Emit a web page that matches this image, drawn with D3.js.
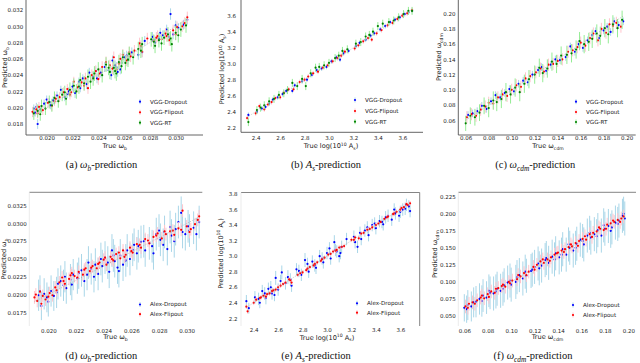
<!DOCTYPE html>
<html>
<head>
<meta charset="utf-8">
<script src="https://cdn.jsdelivr.net/npm/d3@7"></script>
<style>
  html, body { margin: 0; padding: 0; background: #fff; }
  svg { display: block; }
</style>
</head>
<body>
<div id="chart"></div>
<script>
// ---- data: [true value, predicted value, error] ----
const vggDropWb = [[0.0190,0.0199,0.0005],[0.0191,0.0194,0.0005],[0.0193,0.0180,0.0006],[0.0195,0.0198,0.0005],[0.0198,0.0205,0.0005],[0.0200,0.0210,0.0005],[0.0203,0.0203,0.0005],[0.0205,0.0209,0.0005],[0.0208,0.0215,0.0005],[0.0211,0.0222,0.0005],[0.0214,0.0213,0.0005],[0.0217,0.0220,0.0005],[0.0220,0.0226,0.0005],[0.0222,0.0218,0.0006],[0.0225,0.0232,0.0005],[0.0228,0.0236,0.0005],[0.0231,0.0229,0.0006],[0.0233,0.0243,0.0006],[0.0236,0.0238,0.0006],[0.0239,0.0236,0.0006],[0.0242,0.0243,0.0006],[0.0245,0.0250,0.0006],[0.0248,0.0246,0.0006],[0.0251,0.0258,0.0006],[0.0253,0.0252,0.0006],[0.0255,0.0244,0.0006],[0.0258,0.0255,0.0006],[0.0260,0.0262,0.0006],[0.0263,0.0259,0.0006],[0.0266,0.0268,0.0006],[0.0271,0.0265,0.0006],[0.0273,0.0275,0.0006],[0.0276,0.0282,0.0006],[0.0282,0.0287,0.0006],[0.0284,0.0280,0.0006],[0.0287,0.0285,0.0006],[0.0290,0.0289,0.0006],[0.0293,0.0296,0.0006],[0.0296,0.0315,0.0007],[0.0298,0.0290,0.0006],[0.0302,0.0298,0.0006],[0.0306,0.0302,0.0006],[0.0309,0.0308,0.0006],
  [0.0192,0.0201,0.0005],[0.0202,0.0207,0.0005],[0.0216,0.0217,0.0005],[0.0226,0.0224,0.0005],[0.0238,0.0245,0.0006],[0.0250,0.0240,0.0006],[0.0254,0.0250,0.0006],[0.0257,0.0247,0.0006],[0.0262,0.0264,0.0006],[0.0274,0.0268,0.0006],[0.0283,0.0283,0.0006],[0.0288,0.0292,0.0006],[0.0295,0.0287,0.0006],[0.0300,0.0301,0.0006]];
const vggFlipWb = [[0.0189,0.0195,0.0006],[0.0192,0.0198,0.0006],[0.0194,0.0201,0.0006],[0.0197,0.0197,0.0006],[0.0201,0.0206,0.0006],[0.0204,0.0202,0.0006],[0.0207,0.0211,0.0006],[0.0210,0.0213,0.0006],[0.0213,0.0219,0.0006],[0.0216,0.0223,0.0006],[0.0219,0.0219,0.0006],[0.0221,0.0232,0.0006],[0.0224,0.0225,0.0006],[0.0227,0.0231,0.0006],[0.0230,0.0236,0.0007],[0.0232,0.0224,0.0007],[0.0235,0.0240,0.0007],[0.0238,0.0245,0.0007],[0.0240,0.0235,0.0007],[0.0243,0.0250,0.0007],[0.0246,0.0256,0.0007],[0.0249,0.0252,0.0007],[0.0252,0.0262,0.0007],[0.0254,0.0247,0.0007],[0.0257,0.0260,0.0007],[0.0259,0.0265,0.0007],[0.0262,0.0258,0.0007],[0.0265,0.0263,0.0007],[0.0268,0.0270,0.0007],[0.0272,0.0279,0.0007],[0.0274,0.0269,0.0007],[0.0278,0.0285,0.0007],[0.0283,0.0282,0.0007],[0.0286,0.0288,0.0007],[0.0289,0.0284,0.0007],[0.0292,0.0291,0.0007],[0.0295,0.0283,0.0007],[0.0298,0.0295,0.0007],[0.0301,0.0299,0.0007],[0.0305,0.0300,0.0007],[0.0309,0.0311,0.0007],
  [0.0193,0.0193,0.0006],[0.0206,0.0208,0.0006],[0.0218,0.0216,0.0006],[0.0229,0.0227,0.0006],[0.0241,0.0242,0.0007],[0.0251,0.0248,0.0007],[0.0256,0.0254,0.0007],[0.0264,0.0268,0.0007],[0.0273,0.0276,0.0007],[0.0285,0.0286,0.0007],[0.0293,0.0288,0.0007],[0.0300,0.0290,0.0007],[0.0307,0.0304,0.0007]];
const vggRtWb = [[0.0190,0.0193,0.0008],[0.0193,0.0196,0.0008],[0.0196,0.0202,0.0008],[0.0199,0.0199,0.0008],[0.0202,0.0207,0.0008],[0.0206,0.0212,0.0008],[0.0209,0.0208,0.0008],[0.0212,0.0216,0.0008],[0.0215,0.0211,0.0008],[0.0218,0.0222,0.0009],[0.0221,0.0227,0.0009],[0.0223,0.0220,0.0009],[0.0226,0.0234,0.0009],[0.0229,0.0230,0.0009],[0.0232,0.0238,0.0009],[0.0234,0.0232,0.0009],[0.0237,0.0242,0.0009],[0.0240,0.0247,0.0009],[0.0243,0.0240,0.0009],[0.0246,0.0253,0.0009],[0.0249,0.0244,0.0009],[0.0252,0.0249,0.0009],[0.0254,0.0242,0.0009],[0.0256,0.0256,0.0009],[0.0259,0.0262,0.0009],[0.0261,0.0255,0.0009],[0.0264,0.0266,0.0009],[0.0267,0.0262,0.0009],[0.0271,0.0272,0.0009],[0.0274,0.0278,0.0009],[0.0281,0.0284,0.0009],[0.0284,0.0276,0.0009],[0.0287,0.0283,0.0009],[0.0291,0.0286,0.0009],[0.0294,0.0290,0.0009],[0.0297,0.0278,0.0009],[0.0300,0.0292,0.0009],[0.0304,0.0296,0.0009],[0.0308,0.0301,0.0009],
  [0.0195,0.0192,0.0008],[0.0204,0.0203,0.0008],[0.0214,0.0219,0.0008],[0.0225,0.0226,0.0009],[0.0236,0.0236,0.0009],[0.0248,0.0249,0.0009],[0.0253,0.0245,0.0009],[0.0258,0.0251,0.0009],[0.0263,0.0259,0.0009],[0.0273,0.0270,0.0009],[0.0283,0.0281,0.0009],[0.0289,0.0279,0.0009],[0.0296,0.0285,0.0009],[0.0302,0.0289,0.0009]];

const vggDropAs = [[2.34,2.36,0.03],[2.41,2.40,0.03],[2.45,2.44,0.03],[2.48,2.46,0.03],[2.51,2.50,0.03],[2.54,2.55,0.03],[2.58,2.58,0.03],[2.62,2.62,0.03],[2.65,2.66,0.03],[2.70,2.66,0.03],[2.72,2.73,0.03],[2.78,2.78,0.03],[2.82,2.80,0.03],[2.86,2.86,0.03],[2.90,2.92,0.03],[2.94,2.94,0.03],[2.98,2.96,0.03],[3.02,3.03,0.03],[3.06,3.08,0.03],[3.09,3.05,0.03],[3.12,3.13,0.03],[3.16,3.16,0.03],[3.22,3.22,0.03],[3.25,3.26,0.03],[3.30,3.30,0.03],[3.34,3.35,0.03],[3.37,3.38,0.03],[3.42,3.43,0.03],[3.46,3.47,0.03],[3.50,3.52,0.03],[3.54,3.55,0.03],[3.58,3.58,0.03],[3.62,3.62,0.03],[3.65,3.64,0.03],[3.68,3.66,0.03]];
const vggFlipAs = [[2.33,2.32,0.03],[2.40,2.38,0.03],[2.43,2.47,0.03],[2.47,2.43,0.03],[2.50,2.49,0.03],[2.53,2.52,0.03],[2.56,2.57,0.03],[2.60,2.58,0.03],[2.63,2.64,0.03],[2.67,2.68,0.03],[2.71,2.68,0.03],[2.76,2.77,0.03],[2.80,2.80,0.03],[2.83,2.84,0.03],[2.87,2.88,0.03],[2.91,2.90,0.03],[2.95,2.95,0.03],[2.99,2.98,0.03],[3.03,3.03,0.03],[3.07,3.07,0.03],[3.10,3.10,0.03],[3.13,3.15,0.03],[3.21,3.19,0.03],[3.24,3.23,0.03],[3.28,3.28,0.03],[3.32,3.32,0.03],[3.35,3.30,0.03],[3.39,3.38,0.03],[3.43,3.42,0.03],[3.48,3.48,0.03],[3.52,3.51,0.03],[3.56,3.56,0.03],[3.60,3.60,0.03],[3.64,3.63,0.03],[3.68,3.67,0.03]];
const vggRtAs = [[2.34,2.27,0.05],[2.41,2.42,0.05],[2.44,2.45,0.05],[2.47,2.48,0.05],[2.51,2.53,0.05],[2.55,2.56,0.05],[2.59,2.61,0.05],[2.63,2.63,0.05],[2.66,2.67,0.05],[2.70,2.76,0.05],[2.74,2.72,0.05],[2.78,2.81,0.05],[2.81,2.72,0.05],[2.85,2.88,0.05],[2.89,2.95,0.05],[2.92,2.96,0.05],[2.96,2.98,0.05],[3.00,3.01,0.05],[3.05,3.07,0.05],[3.08,3.10,0.05],[3.11,3.16,0.05],[3.15,3.18,0.05],[3.22,3.25,0.05],[3.26,3.27,0.05],[3.30,3.34,0.05],[3.33,3.36,0.05],[3.36,3.40,0.05],[3.40,3.47,0.05],[3.44,3.50,0.05],[3.49,3.52,0.05],[3.53,3.54,0.05],[3.57,3.58,0.05],[3.61,3.62,0.05],[3.65,3.66,0.05],[3.68,3.66,0.05]];

const vggDropWc = [[0.062,0.067,0.005],[0.066,0.069,0.005],[0.070,0.072,0.005],[0.074,0.079,0.005],[0.078,0.075,0.005],[0.082,0.085,0.005],[0.086,0.093,0.005],[0.090,0.090,0.005],[0.094,0.096,0.005],[0.098,0.101,0.005],[0.102,0.098,0.005],[0.106,0.108,0.005],[0.110,0.112,0.005],[0.114,0.110,0.005],[0.118,0.120,0.005],[0.123,0.126,0.005],[0.126,0.130,0.005],[0.130,0.125,0.005],[0.134,0.133,0.005],[0.138,0.140,0.005],[0.142,0.139,0.005],[0.147,0.143,0.005],[0.151,0.157,0.005],[0.155,0.150,0.005],[0.158,0.160,0.005],[0.162,0.155,0.005],[0.166,0.165,0.005],[0.170,0.172,0.005],[0.173,0.177,0.005],[0.176,0.168,0.005],[0.180,0.178,0.005],[0.183,0.183,0.005],[0.186,0.176,0.005],[0.189,0.190,0.005],[0.193,0.185,0.005],[0.197,0.190,0.005]];
const vggFlipWc = [[0.061,0.064,0.008],[0.065,0.068,0.008],[0.069,0.066,0.008],[0.073,0.074,0.008],[0.077,0.078,0.008],[0.080,0.083,0.008],[0.084,0.082,0.008],[0.088,0.090,0.008],[0.092,0.094,0.008],[0.096,0.092,0.008],[0.100,0.100,0.008],[0.104,0.106,0.008],[0.108,0.104,0.008],[0.112,0.115,0.008],[0.116,0.118,0.008],[0.121,0.123,0.008],[0.125,0.128,0.008],[0.128,0.124,0.008],[0.132,0.133,0.008],[0.136,0.134,0.008],[0.140,0.138,0.008],[0.144,0.140,0.008],[0.149,0.150,0.008],[0.153,0.152,0.008],[0.157,0.156,0.008],[0.160,0.162,0.008],[0.164,0.158,0.008],[0.168,0.168,0.008],[0.171,0.174,0.008],[0.175,0.165,0.008],[0.178,0.180,0.008],[0.182,0.175,0.008],[0.185,0.186,0.008],[0.188,0.184,0.008],[0.191,0.188,0.008],[0.195,0.183,0.008]];
const vggRtWc = [[0.060,0.056,0.010],[0.064,0.066,0.011],[0.068,0.064,0.011],[0.072,0.070,0.011],[0.076,0.079,0.011],[0.080,0.076,0.012],[0.084,0.086,0.012],[0.087,0.084,0.012],[0.091,0.088,0.012],[0.095,0.097,0.012],[0.099,0.094,0.012],[0.103,0.103,0.012],[0.107,0.097,0.012],[0.111,0.108,0.012],[0.115,0.114,0.012],[0.120,0.120,0.012],[0.124,0.129,0.012],[0.127,0.122,0.012],[0.131,0.128,0.012],[0.135,0.137,0.012],[0.139,0.134,0.012],[0.143,0.145,0.012],[0.148,0.146,0.012],[0.152,0.148,0.012],[0.156,0.153,0.012],[0.159,0.164,0.012],[0.163,0.160,0.012],[0.167,0.163,0.012],[0.170,0.167,0.012],[0.174,0.174,0.012],[0.177,0.171,0.012],[0.181,0.181,0.012],[0.184,0.173,0.012],[0.188,0.186,0.012],[0.192,0.181,0.012],[0.196,0.192,0.012]];

const alexDropWb = [[0.0193,0.0199,0.0022],[0.0195,0.0184,0.0020],[0.0197,0.0201,0.0022],[0.0199,0.0196,0.0021],[0.0202,0.0205,0.0022],[0.0204,0.0198,0.0021],[0.0206,0.0203,0.0022],[0.0209,0.0219,0.0022],[0.0211,0.0213,0.0022],[0.0213,0.0209,0.0022],[0.0216,0.0221,0.0022],[0.0218,0.0228,0.0022],[0.0221,0.0223,0.0022],[0.0224,0.0234,0.0023],[0.0226,0.0219,0.0022],[0.0229,0.0245,0.0023],[0.0231,0.0236,0.0022],[0.0234,0.0242,0.0023],[0.0236,0.0229,0.0023],[0.0239,0.0240,0.0023],[0.0241,0.0252,0.0023],[0.0244,0.0232,0.0023],[0.0246,0.0262,0.0023],[0.0248,0.0247,0.0023],[0.0250,0.0238,0.0023],[0.0252,0.0255,0.0023],[0.0254,0.0242,0.0023],[0.0257,0.0262,0.0023],[0.0259,0.0250,0.0023],[0.0262,0.0270,0.0023],[0.0264,0.0258,0.0023],[0.0267,0.0274,0.0023],[0.0270,0.0262,0.0023],[0.0273,0.0272,0.0023],[0.0276,0.0258,0.0023],[0.0278,0.0285,0.0023],[0.0281,0.0277,0.0023],[0.0284,0.0288,0.0023],[0.0286,0.0264,0.0023],[0.0289,0.0283,0.0023],[0.0292,0.0292,0.0023],[0.0294,0.0302,0.0023],[0.0296,0.0315,0.0023],[0.0299,0.0285,0.0023],[0.0302,0.0290,0.0023],[0.0305,0.0294,0.0023],[0.0309,0.0302,0.0023],
  [0.0194,0.0205,0.0022],[0.0200,0.0190,0.0021],[0.0207,0.0215,0.0022],[0.0212,0.0225,0.0022],[0.0217,0.0214,0.0022],[0.0222,0.0230,0.0022],[0.0228,0.0228,0.0022],[0.0233,0.0225,0.0022],[0.0238,0.0250,0.0023],[0.0243,0.0245,0.0023],[0.0247,0.0255,0.0023],[0.0251,0.0233,0.0023],[0.0256,0.0248,0.0023],[0.0261,0.0263,0.0023],[0.0265,0.0268,0.0023],[0.0269,0.0275,0.0023],[0.0275,0.0268,0.0023],[0.0280,0.0290,0.0023],[0.0283,0.0270,0.0023],[0.0288,0.0295,0.0023],[0.0291,0.0275,0.0023],[0.0297,0.0288,0.0023],[0.0301,0.0296,0.0023],[0.0307,0.0285,0.0023]];
const alexFlipWb = [[0.0190,0.0196,0.0009],[0.0192,0.0191,0.0009],[0.0194,0.0204,0.0009],[0.0196,0.0198,0.0009],[0.0198,0.0193,0.0009],[0.0201,0.0202,0.0009],[0.0203,0.0199,0.0009],[0.0205,0.0210,0.0009],[0.0208,0.0217,0.0009],[0.0210,0.0224,0.0009],[0.0212,0.0215,0.0009],[0.0215,0.0222,0.0009],[0.0217,0.0230,0.0009],[0.0219,0.0226,0.0009],[0.0222,0.0232,0.0009],[0.0225,0.0228,0.0009],[0.0227,0.0237,0.0009],[0.0230,0.0233,0.0009],[0.0232,0.0240,0.0009],[0.0235,0.0237,0.0009],[0.0237,0.0245,0.0009],[0.0240,0.0249,0.0009],[0.0242,0.0242,0.0009],[0.0245,0.0253,0.0009],[0.0247,0.0248,0.0009],[0.0249,0.0257,0.0009],[0.0252,0.0251,0.0009],[0.0254,0.0262,0.0009],[0.0256,0.0256,0.0009],[0.0259,0.0266,0.0009],[0.0261,0.0259,0.0009],[0.0264,0.0271,0.0009],[0.0267,0.0266,0.0009],[0.0270,0.0278,0.0009],[0.0273,0.0272,0.0009],[0.0276,0.0281,0.0009],[0.0279,0.0286,0.0009],[0.0282,0.0279,0.0009],[0.0285,0.0285,0.0009],[0.0288,0.0289,0.0009],[0.0291,0.0284,0.0009],[0.0294,0.0293,0.0009],[0.0297,0.0318,0.0009],[0.0300,0.0296,0.0009],[0.0303,0.0292,0.0009],[0.0306,0.0299,0.0009],[0.0309,0.0310,0.0009],
  [0.0191,0.0200,0.0009],[0.0195,0.0187,0.0009],[0.0200,0.0197,0.0009],[0.0206,0.0206,0.0009],[0.0211,0.0219,0.0009],[0.0216,0.0227,0.0009],[0.0221,0.0224,0.0009],[0.0226,0.0235,0.0009],[0.0231,0.0238,0.0009],[0.0236,0.0243,0.0009],[0.0241,0.0252,0.0009],[0.0246,0.0250,0.0009],[0.0251,0.0259,0.0009],[0.0255,0.0253,0.0009],[0.0260,0.0261,0.0009],[0.0266,0.0270,0.0009],[0.0272,0.0276,0.0009],[0.0278,0.0283,0.0009],[0.0284,0.0289,0.0009],[0.0290,0.0290,0.0009],[0.0296,0.0291,0.0009],[0.0302,0.0288,0.0009],[0.0308,0.0305,0.0009]];

const alexDropAs = [[2.34,2.42,0.08],[2.36,2.33,0.07],[2.41,2.47,0.08],[2.45,2.40,0.07],[2.47,2.55,0.08],[2.50,2.46,0.08],[2.52,2.58,0.08],[2.55,2.52,0.08],[2.58,2.72,0.09],[2.60,2.57,0.08],[2.63,2.79,0.09],[2.66,2.65,0.08],[2.68,2.73,0.09],[2.71,2.62,0.08],[2.75,2.83,0.08],[2.79,2.76,0.08],[2.82,2.95,0.09],[2.85,2.80,0.08],[2.88,2.93,0.08],[2.91,2.85,0.08],[2.94,3.00,0.08],[2.97,2.92,0.08],[3.00,3.04,0.08],[3.03,2.97,0.08],[3.06,3.18,0.09],[3.08,3.06,0.08],[3.10,3.00,0.08],[3.12,3.12,0.08],[3.16,3.22,0.08],[3.22,3.25,0.08],[3.25,3.12,0.08],[3.28,3.22,0.08],[3.31,3.33,0.08],[3.34,3.27,0.08],[3.37,3.40,0.08],[3.40,3.36,0.08],[3.43,3.45,0.08],[3.46,3.41,0.08],[3.50,3.52,0.08],[3.53,3.47,0.08],[3.56,3.55,0.08],[3.59,3.52,0.08],[3.62,3.60,0.08],[3.65,3.66,0.08],[3.68,3.58,0.08],
  [2.44,2.45,0.08],[2.49,2.52,0.08],[2.54,2.60,0.08],[2.57,2.50,0.08],[2.62,2.68,0.08],[2.70,2.70,0.08],[2.77,2.81,0.08],[2.84,2.90,0.08],[2.90,2.88,0.08],[2.96,2.97,0.08],[3.02,3.10,0.08],[3.07,3.08,0.08],[3.11,3.04,0.08],[3.23,3.18,0.08],[3.27,3.30,0.08],[3.33,3.37,0.08],[3.39,3.42,0.08],[3.45,3.44,0.08],[3.48,3.50,0.08],[3.55,3.60,0.08],[3.60,3.57,0.08],[3.64,3.61,0.08],[3.67,3.64,0.08]];
const alexFlipAs = [[2.34,2.35,0.03],[2.35,2.29,0.03],[2.42,2.44,0.03],[2.45,2.46,0.03],[2.48,2.49,0.03],[2.50,2.48,0.03],[2.53,2.52,0.03],[2.55,2.55,0.03],[2.58,2.57,0.03],[2.62,2.62,0.03],[2.66,2.66,0.03],[2.69,2.70,0.03],[2.71,2.66,0.03],[2.76,2.76,0.03],[2.80,2.79,0.03],[2.83,2.82,0.03],[2.86,2.86,0.03],[2.89,2.88,0.03],[2.92,2.92,0.03],[2.95,2.94,0.03],[2.98,2.98,0.03],[3.01,3.02,0.03],[3.05,3.06,0.03],[3.08,3.08,0.03],[3.10,3.11,0.03],[3.14,3.13,0.03],[3.20,3.21,0.03],[3.23,3.24,0.03],[3.26,3.23,0.03],[3.30,3.30,0.03],[3.33,3.34,0.03],[3.37,3.37,0.03],[3.40,3.40,0.03],[3.44,3.44,0.03],[3.47,3.48,0.03],[3.50,3.51,0.03],[3.54,3.54,0.03],[3.57,3.57,0.03],[3.60,3.60,0.03],[3.63,3.63,0.03],[3.66,3.66,0.03],[3.68,3.68,0.03],
  [2.40,2.40,0.03],[2.46,2.47,0.03],[2.51,2.51,0.03],[2.56,2.56,0.03],[2.60,2.60,0.03],[2.64,2.64,0.03],[2.70,2.69,0.03],[2.78,2.78,0.03],[2.84,2.84,0.03],[2.90,2.90,0.03],[2.96,2.96,0.03],[3.03,3.03,0.03],[3.07,3.07,0.03],[3.12,3.12,0.03],[3.22,3.21,0.03],[3.28,3.29,0.03],[3.35,3.35,0.03],[3.42,3.42,0.03],[3.49,3.50,0.03],[3.55,3.55,0.03],[3.61,3.62,0.03],[3.65,3.67,0.03]];

const alexDropWc = [[0.060,0.062,0.020],[0.063,0.066,0.022],[0.066,0.064,0.022],[0.070,0.071,0.023],[0.073,0.075,0.023],[0.076,0.080,0.024],[0.079,0.077,0.024],[0.082,0.084,0.024],[0.085,0.083,0.025],[0.088,0.090,0.025],[0.091,0.087,0.025],[0.094,0.095,0.025],[0.097,0.099,0.025],[0.100,0.096,0.025],[0.104,0.100,0.025],[0.107,0.110,0.025],[0.110,0.105,0.025],[0.113,0.109,0.025],[0.117,0.116,0.025],[0.120,0.122,0.025],[0.123,0.127,0.025],[0.126,0.124,0.025],[0.129,0.132,0.025],[0.132,0.128,0.025],[0.135,0.137,0.025],[0.138,0.142,0.025],[0.141,0.136,0.025],[0.144,0.148,0.025],[0.147,0.140,0.025],[0.150,0.150,0.025],[0.153,0.146,0.025],[0.156,0.156,0.025],[0.159,0.162,0.025],[0.162,0.155,0.025],[0.165,0.168,0.025],[0.168,0.165,0.025],[0.171,0.170,0.025],[0.174,0.176,0.025],[0.177,0.168,0.025],[0.180,0.178,0.025],[0.183,0.182,0.025],[0.186,0.180,0.025],[0.189,0.187,0.025],[0.192,0.190,0.025],[0.195,0.197,0.025],[0.197,0.193,0.025],
  [0.062,0.060,0.020],[0.068,0.070,0.022],[0.075,0.072,0.023],[0.081,0.087,0.024],[0.087,0.086,0.025],[0.093,0.090,0.025],[0.099,0.102,0.025],[0.105,0.107,0.025],[0.112,0.115,0.025],[0.118,0.118,0.025],[0.124,0.120,0.025],[0.130,0.135,0.025],[0.137,0.133,0.025],[0.143,0.140,0.025],[0.149,0.155,0.025],[0.155,0.150,0.025],[0.161,0.160,0.025],[0.167,0.172,0.025],[0.173,0.167,0.025],[0.179,0.183,0.025],[0.185,0.175,0.025],[0.191,0.185,0.025],[0.196,0.200,0.025]];
const alexFlipWc = [[0.061,0.064,0.010],[0.064,0.068,0.010],[0.067,0.070,0.010],[0.071,0.073,0.010],[0.074,0.077,0.010],[0.077,0.076,0.010],[0.080,0.082,0.010],[0.083,0.086,0.010],[0.086,0.084,0.010],[0.089,0.091,0.010],[0.092,0.094,0.010],[0.095,0.093,0.010],[0.098,0.100,0.010],[0.101,0.102,0.010],[0.105,0.104,0.010],[0.108,0.108,0.010],[0.111,0.113,0.010],[0.115,0.115,0.010],[0.119,0.122,0.010],[0.122,0.125,0.010],[0.125,0.130,0.010],[0.128,0.128,0.010],[0.131,0.133,0.010],[0.134,0.136,0.010],[0.137,0.140,0.010],[0.140,0.143,0.010],[0.143,0.146,0.010],[0.146,0.148,0.010],[0.149,0.151,0.010],[0.152,0.152,0.010],[0.155,0.157,0.010],[0.158,0.160,0.010],[0.161,0.163,0.010],[0.164,0.162,0.010],[0.167,0.170,0.010],[0.170,0.172,0.010],[0.173,0.174,0.010],[0.176,0.178,0.010],[0.179,0.176,0.010],[0.182,0.184,0.010],[0.185,0.186,0.010],[0.188,0.188,0.010],[0.191,0.191,0.010],[0.194,0.193,0.010],[0.196,0.196,0.010],
  [0.063,0.062,0.010],[0.069,0.068,0.010],[0.075,0.080,0.010],[0.081,0.078,0.010],[0.087,0.090,0.010],[0.093,0.096,0.010],[0.099,0.098,0.010],[0.106,0.110,0.010],[0.113,0.110,0.010],[0.120,0.118,0.010],[0.127,0.133,0.010],[0.133,0.131,0.010],[0.139,0.142,0.010],[0.145,0.144,0.010],[0.151,0.155,0.010],[0.157,0.153,0.010],[0.163,0.167,0.010],[0.169,0.166,0.010],[0.175,0.180,0.010],[0.181,0.178,0.010],[0.187,0.190,0.010],[0.193,0.188,0.010]];

// ---- tick values ----
const ticksWbX = [0.020, 0.022, 0.024, 0.026, 0.028, 0.030];
const ticksWbVggY = [0.018, 0.020, 0.022, 0.024, 0.026, 0.028, 0.030, 0.032];
const ticksWbAlexY = [0.0175, 0.0200, 0.0225, 0.0250, 0.0275, 0.0300, 0.0325];
const ticksAsX = [2.4, 2.6, 2.8, 3.0, 3.2, 3.4, 3.6];
const ticksAsVggY = [2.2, 2.4, 2.6, 2.8, 3.0, 3.2, 3.4, 3.6];
const ticksAsAlexY = [2.2, 2.4, 2.6, 2.8, 3.0, 3.2, 3.4, 3.6, 3.8];
const ticksWcX = [0.06, 0.08, 0.10, 0.12, 0.14, 0.16, 0.18, 0.20];
const ticksWcVggY = [0.06, 0.08, 0.10, 0.12, 0.14, 0.16, 0.18, 0.20];
const ticksWcAlexY = [0.050, 0.075, 0.100, 0.125, 0.150, 0.175, 0.200, 0.225];

const seriesNames = ["VGG-Dropout", "VGG-Flipout", "VGG-RT", "Alex-Dropout", "Alex-Flipout"];

// ---- styles ----
const dotColor = {drop: "#0000ff", flip: "#ff0000", rt: "#008000"};
const barColor = {drop: "#a9d6e8", flip: "#ffc4cc", rt: "#94ec94"};
const sans = "DejaVu Sans, sans-serif";
const serif = "Liberation Serif, serif";

const svg = d3.select("#chart").append("svg")
  .attr("width", 640).attr("height", 363);
svg.append("rect").attr("width", 640).attr("height", 363).attr("fill", "#fff");

// text with sub/superscripts and italics
function rich(t, parts) {
  const fs = parseFloat(t.attr("font-size"));
  let shift = 0;
  parts.forEach(([s, k]) => {
    k = k || "";
    const target = k.includes("sub") ? 0.28 : k.includes("sup") ? -0.38 : 0;
    const ts = t.append("tspan").text(s);
    const dy = (target - shift) * fs;
    if (dy) ts.attr("dy", dy);
    shift = target;
    if (target) ts.attr("font-size", fs * 0.7);
    if (k.includes("it")) ts.attr("font-style", "italic");
  });
  return t;
}

const wbParts = [["ω"], ["b", "sub"]];
const wcParts = [["ω"], ["cdm", "sub"]];
const asParts = [["log(10"], ["10", "sup"], [" A"], ["s", "sub"], [")"]];

const panels = [
  { xd: [0.020, 0.030], xr: [46.7, 175.7], yd: [0.018, 0.032], yr: [124, 10],
    xt: ticksWbX, yt: ticksWbVggY, xf: ".3f", yf: ".3f",
    l: 26, r: 203, t: 0, b: 135, top: false, ypad: 2.7, xAxisY: 135, xpad: 0.9,
    series: [["drop", vggDropWb, 0], ["flip", vggFlipWb, 1], ["rt", vggRtWb, 2]],
    leg: {x: 140, y: [101.7, 112.3, 122.7]},
    xTitle: {x: 114.7, y: 145.7, parts: [["True "]].concat(wbParts)},
    yTitle: {x: 4.5, y: 67.5, parts: [["Predicted "]].concat(wbParts)},
    cap: {x: 101.5, y: 164.3, parts: [["(a) "], ["ω", "it"], ["b", "sub it"], ["-prediction"]]} },
  { xd: [2.4, 3.6], xr: [255.7, 402.3], yd: [2.2, 3.6], yr: [127.7, 15.7],
    xt: ticksAsX, yt: ticksAsVggY, xf: ".1f", yf: ".1f",
    l: 241, r: 423, t: 0, b: 132.3, top: false, ypad: 5, xAxisY: 132.3, xpad: 3.6,
    series: [["drop", vggDropAs, 0], ["flip", vggFlipAs, 1], ["rt", vggRtAs, 2]],
    leg: {x: 355, y: [100, 111, 121.7]},
    xTitle: {x: 331, y: 145.7, parts: [["True "]].concat(asParts)},
    yTitle: {x: 222, y: 69, parts: [["Predicted "]].concat(asParts)},
    cap: {x: 326, y: 164.3, parts: [["(b) "], ["A", "it"], ["s", "sub it"], ["-prediction"]]} },
  { xd: [0.06, 0.20], xr: [465.7, 626.7], yd: [0.06, 0.20], yr: [120.3, 13.7],
    xt: ticksWcX, yt: ticksWcVggY, xf: ".2f", yf: ".2f",
    l: 458.3, r: 635.7, t: 0, b: 135, top: false, ypad: 2.7, xAxisY: 135, xpad: 0.9,
    series: [["drop", vggDropWc, 0], ["flip", vggFlipWc, 1], ["rt", vggRtWc, 2]],
    leg: {x: 576, y: [101.7, 112, 122]},
    xTitle: {x: 548, y: 145.7, parts: [["True "]].concat(wcParts)},
    yTitle: {x: 438.5, y: 57, parts: [["Predicted "]].concat(wcParts)},
    cap: {x: 535.3, y: 164.3, parts: [["(c) "], ["ω", "it"], ["cdm", "sub it"], ["-prediction"]]} },
  { xd: [0.020, 0.030], xr: [48.3, 186.7], yd: [0.0175, 0.0325], yr: [312.3, 205.7],
    xt: ticksWbX, yt: ticksWbAlexY, xf: ".3f", yf: ".4f",
    l: 29.3, r: 202.3, t: 192.3, b: 326, top: true, right: false, ypad: 2.6, xAxisY: 326, xpad: 2.7,
    series: [["drop", alexDropWb, 3], ["flip", alexFlipWb, 4]],
    leg: {x: 140, y: [304.5, 314.2]},
    xTitle: {x: 115.5, y: 337, parts: [["True "]].concat(wbParts)},
    yTitle: {x: 3.8, y: 259, parts: [["Predicted "]].concat(wbParts)},
    cap: {x: 101.3, y: 356, parts: [["(d) "], ["ω", "it"], ["b", "sub it"], ["-prediction"]]} },
  { xd: [2.4, 3.6], xr: [253.7, 400.3], yd: [2.2, 3.8], yr: [318.3, 194],
    xt: ticksAsX, yt: ticksAsAlexY, xf: ".1f", yf: ".1f",
    l: 241, r: 419.7, t: 192.5, b: 326, top: true, right: true, ypad: 3.5, xAxisY: 326, xpad: 2.3,
    series: [["drop", alexDropAs, 3], ["flip", alexFlipAs, 4]],
    leg: {x: 357, y: [303.3, 312.7]},
    xTitle: {x: 327, y: 337.3, parts: [["True "]].concat(asParts)},
    yTitle: {x: 220.5, y: 253.5, parts: [["Predicted "]].concat(asParts)},
    cap: {x: 316, y: 356, parts: [["(e) "], ["A", "it"], ["s", "sub it"], ["-prediction"]]} },
  { xd: [0.06, 0.20], xr: [464.3, 628.3], yd: [0.050, 0.225], yr: [316, 196.7],
    xt: ticksWcX, yt: ticksWcAlexY, xf: ".2f", yf: ".3f",
    l: 458.3, r: 636, t: 192.3, b: 326, top: true, right: false, ypad: 2.6, xAxisY: 326, xpad: 2.7,
    series: [["drop", alexDropWc, 3], ["flip", alexFlipWc, 4]],
    leg: {x: 573, y: [305, 315]},
    xTitle: {x: 547.5, y: 336.7, parts: [["True "]].concat(wcParts)},
    yTitle: {x: 435, y: 254, parts: [["Predicted "]].concat(wcParts)},
    cap: {x: 533, y: 356, parts: [["(f) "], ["ω", "it"], ["cdm", "sub it"], ["-prediction"]]} }
];

function drawPanel(p) {
  const g = svg.append("g");
  const x = d3.scaleLinear().domain(p.xd).range(p.xr);
  const y = d3.scaleLinear().domain(p.yd).range(p.yr);

  // spines
  if (!p.top) {
    g.append("line").attr("x1", p.l).attr("x2", p.l).attr("y1", p.t).attr("y2", p.b)
      .attr("stroke", "#555").attr("stroke-width", 0.9);
    g.append("line").attr("x1", p.l).attr("x2", p.r).attr("y1", p.b).attr("y2", p.b)
      .attr("stroke", "#555").attr("stroke-width", 0.9);
  } else {
    g.append("line").attr("x1", p.l).attr("x2", p.r).attr("y1", p.t).attr("y2", p.t)
      .attr("stroke", "#777").attr("stroke-width", 0.9);
    g.append("line").attr("x1", p.l).attr("x2", p.l).attr("y1", p.t).attr("y2", p.b)
      .attr("stroke", "#e6e6e6").attr("stroke-width", 0.8);
    if (p.right) {
      g.append("line").attr("x1", p.r).attr("x2", p.r).attr("y1", p.t).attr("y2", p.b)
        .attr("stroke", "#777").attr("stroke-width", 0.9);
    }
  }

  // series: error bars then dots
  p.series.forEach(([key, data]) => {
    g.append("g").selectAll("line").data(data).join("line")
      .attr("x1", d => x(d[0])).attr("x2", d => x(d[0]))
      .attr("y1", d => y(d[1] - d[2])).attr("y2", d => y(d[1] + d[2]))
      .attr("stroke", barColor[key]).attr("stroke-width", 1);
    g.append("g").selectAll("circle").data(data).join("circle")
      .attr("cx", d => x(d[0])).attr("cy", d => y(d[1]))
      .attr("r", 1.1).attr("fill", dotColor[key]);
  });

  // y = x reference
  const all = p.series.flatMap(s => s[1].map(d => d[0]));
  const lo = d3.min(all), hi = d3.max(all);
  g.append("line").attr("x1", x(lo)).attr("y1", y(lo)).attr("x2", x(hi)).attr("y2", y(hi))
    .attr("stroke", "#999").attr("stroke-width", 0.7).attr("stroke-dasharray", "1,1.5")
    .attr("opacity", 0.8);

  // axes
  const xa = g.append("g").attr("transform", `translate(0,${p.xAxisY})`)
    .call(d3.axisBottom(x).tickValues(p.xt).tickFormat(d3.format(p.xf)).tickSize(0).tickPadding(p.xpad));
  const ya = g.append("g").attr("transform", `translate(${p.l},0)`)
    .call(d3.axisLeft(y).tickValues(p.yt).tickFormat(d3.format(p.yf)).tickSize(0).tickPadding(p.ypad));
  [xa, ya].forEach(a => {
    a.select(".domain").remove();
    a.selectAll("text").attr("font-family", sans).attr("font-size", 5.5).attr("fill", "#222");
  });

  // axis titles
  rich(g.append("text").attr("x", p.xTitle.x).attr("y", p.xTitle.y).attr("dy", "0.35em")
    .attr("text-anchor", "middle").attr("font-family", sans).attr("font-size", 6.6).attr("fill", "#222"),
    p.xTitle.parts);
  rich(g.append("text").attr("transform", `translate(${p.yTitle.x},${p.yTitle.y}) rotate(-90)`)
    .attr("dy", "0.35em").attr("text-anchor", "middle").attr("font-family", sans)
    .attr("font-size", 6.5).attr("fill", "#222"), p.yTitle.parts);

  // legend
  p.series.forEach(([key, , nameIdx], i) => {
    const ly = p.leg.y[i];
    g.append("line").attr("x1", p.leg.x).attr("x2", p.leg.x).attr("y1", ly - 2.5).attr("y2", ly + 2.5)
      .attr("stroke", barColor[key]).attr("stroke-width", 1);
    g.append("circle").attr("cx", p.leg.x).attr("cy", ly).attr("r", 1.1).attr("fill", dotColor[key]);
    g.append("text").attr("x", p.leg.x + 10).attr("y", ly).attr("dy", "0.35em")
      .attr("font-family", sans).attr("font-size", 5.6).attr("fill", "#222")
      .text(seriesNames[nameIdx]);
  });

  // caption
  rich(g.append("text").attr("x", p.cap.x).attr("y", p.cap.y).attr("dy", "0.32em")
    .attr("text-anchor", "middle").attr("font-family", serif).attr("font-size", 10.5).attr("fill", "#111"),
    p.cap.parts);
}

panels.forEach(drawPanel);
</script>
</body>
</html>
